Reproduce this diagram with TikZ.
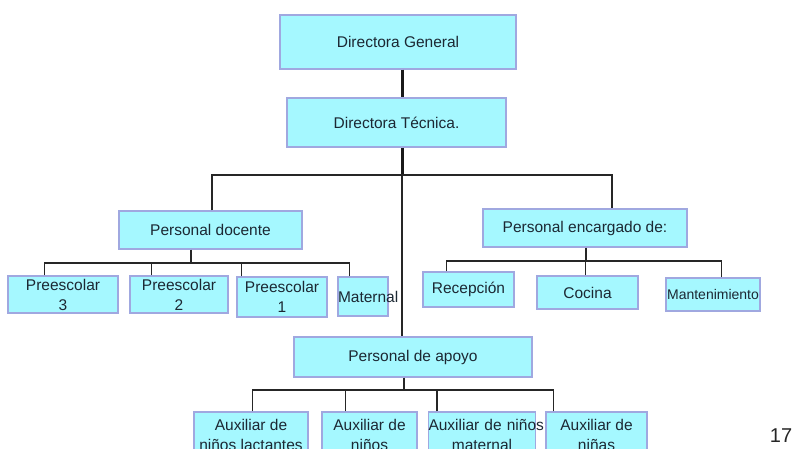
\documentclass[tikz,border=0pt]{standalone}
\usepackage{fontspec}
\setmainfont{Liberation Sans}
\usetikzlibrary{positioning,calc}
\definecolor{boxfill}{HTML}{A5F8FF}
\definecolor{boxline}{HTML}{A0A8E0}
\definecolor{boxtext}{HTML}{1C2833}

\begin{document}
\begin{tikzpicture}[x=1pt,y=-1pt,
		box/.style={draw=boxline,line width=1.3pt,fill=boxfill,text=boxtext,inner sep=0pt,
			align=center,font=\fontsize{15.5}{20}\selectfont},
		link/.style={draw=black!85,line width=1.3pt},
		trunk/.style={draw=black!90,line width=3pt}]
			\useasboundingbox (0,0) rectangle (794,448);
			\clip (0,0) rectangle (794,448);
			%
			\node[box,minimum width=236,minimum height=54] (dg) at (398,42) {Directora General};
			\node[box,minimum width=219,minimum height=49] (dt) at (396.5,122.5) {Directora Técnica.};
			\node[box,minimum width=183,minimum height=38] (pd) at (210.5,230) {Personal docente};
			\node[box,minimum width=204,minimum height=38] (pe) at (585,228) {Personal encargado de:};
			\node[box,minimum width=238,minimum height=40] (pa) at (413,357) {Personal de apoyo};
			%
			\node[box,minimum width=110,minimum height=37] (p3) at (63,294.5) {Preescolar\\3};
			\node[box,minimum width=98,minimum height=37] (p2) at (179,294.5) {Preescolar\\2};
			\node[box,minimum width=90,minimum height=40] (p1) at (282,297) {Preescolar\\1};
			\node[box,text width=50,minimum height=39] (mat) at (363,296.5) {Maternal};
			%
			\node[box,minimum width=91,minimum height=35] (rec) at (468.5,289.5) {Recepción};
			\node[box,minimum width=101,minimum height=33] (coc) at (587.5,292.5) {Cocina};
			\node[box,text width=94,minimum height=33,font=\fontsize{14}{20}\selectfont] (man) at (713,294.5) {Mantenimiento};
			%
			\node[box,minimum width=114,minimum height=46] (a1) at (251,435) {Auxiliar de\\niños lactantes};
			\node[box,minimum width=95,minimum height=46] (a2) at (369.5,435) {Auxiliar de\\niños};
			\node[box,text width=107,minimum height=46] (a3) at (482,435) {\mbox{Auxiliar de niños}\\maternal};
			\node[box,minimum width=101,minimum height=46] (a4) at (596.5,435) {Auxiliar de\\niñas};
			%
			\node[text=black!85,font=\fontsize{20}{24}\selectfont] (pag) at (781,436) {17};
			%
			\coordinate (top) at (402,175);
			\coordinate (tl) at (212,175);
			\coordinate (tr) at (612,175);
			\coordinate (db) at (191,263);
			\coordinate (eb) at (586,261);
			\coordinate (ab) at (404,390);
			%
			\draw[trunk] (dg.south -| top) -- (dt.north -| top);
			\draw[trunk] (dt.south -| top) -- (top);
			\draw[link] (pd.north -| tl) -- (tl) -- (tr) -- (pe.north -| tr);
			\draw[link] (top) -- (pa.north -| top);
			%
			\draw[link] (pd.south -| db) -- (db);
			\foreach \n/\d in {p3/37,p2/22,p1/5,mat/12}
				\draw[link] ([xshift=\d]\n.north west) |- (db);
			\draw[link] (pe.south -| eb) -- (eb);
			\foreach \n/\d in {rec/24,coc/49,man/56}
				\draw[link] ([xshift=\d]\n.north west) |- (eb);
			\draw[link] (pa.south -| ab) -- (ab);
			\foreach \n/\d in {a1/59,a2/24,a3/9,a4/8}
				\draw[link] ([xshift=\d]\n.north west) |- (ab);
		\end{tikzpicture}
\end{document}
